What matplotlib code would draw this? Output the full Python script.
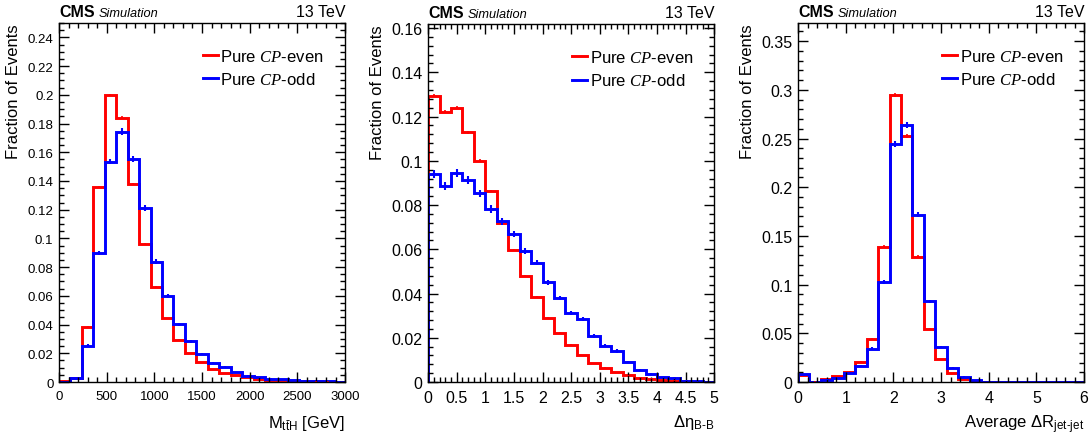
import numpy as np
import matplotlib.pyplot as plt
from matplotlib.ticker import MultipleLocator

plt.rcParams['font.family'] = ['Liberation Sans', 'DejaVu Sans']
plt.rcParams['mathtext.fontset'] = 'custom'
plt.rcParams['mathtext.rm'] = 'Liberation Sans'
plt.rcParams['mathtext.sf'] = 'Liberation Sans'
plt.rcParams['mathtext.it'] = 'Liberation Serif:italic'

# --- data (fraction of events per bin) ---
mtth_edges = np.linspace(0, 3000, 26)
mtth_even = [0.0005, 0.003, 0.0383, 0.136, 0.200, 0.184, 0.138, 0.0964, 0.066, 0.0444,
             0.0295, 0.020, 0.0137, 0.009, 0.0063, 0.0046, 0.0033, 0.0023, 0.0016, 0.0012,
             0.0008, 0.0005, 0.0004, 0.0003, 0.0002]
mtth_odd = [0.0003, 0.003, 0.0253, 0.0897, 0.1535, 0.1744, 0.1554, 0.1212, 0.0838, 0.0599,
            0.0402, 0.0283, 0.0195, 0.013, 0.0107, 0.0067, 0.0044, 0.0033, 0.0023, 0.0019,
            0.0013, 0.001, 0.0007, 0.0005, 0.0003]
mtth_even_err = [0, 0.0002, 0.0004, 0.0008, 0.0009, 0.0009, 0.0008, 0.0007, 0.0006, 0.0005,
                 0.0004, 0.0003, 0.0003, 0.0002, 0.0002, 0.0001, 0.0001, 0.0001, 0.0001, 0.0001,
                 0.0001, 0.0001, 0.0001, 0.0001, 0.0001]
mtth_odd_err = [0, 0.0005, 0.001, 0.0015, 0.002, 0.0023, 0.0022, 0.002, 0.0016, 0.0013,
                0.001, 0.0009, 0.0007, 0.0006, 0.0005, 0.0004, 0.0003, 0.0003, 0.0002, 0.0002,
                0.0002, 0.0001, 0.0001, 0.0001, 0.0001]

deta_edges = np.linspace(0, 5, 26)
deta_even = [0.1295, 0.1221, 0.1239, 0.1128, 0.100, 0.0863, 0.072, 0.0597, 0.048, 0.0386,
             0.0289, 0.0223, 0.0168, 0.012, 0.0086, 0.0065, 0.0044, 0.003, 0.002, 0.0015,
             0.0009, 0.0006, 0.0003, 0.0001, 0.0]
deta_odd = [0.094, 0.0887, 0.0947, 0.0913, 0.0853, 0.0782, 0.0726, 0.0669, 0.0591, 0.054,
            0.045, 0.038, 0.0311, 0.0286, 0.0208, 0.0165, 0.014, 0.009, 0.0056, 0.0038,
            0.0021, 0.0018, 0.0006, 0.0003, 0.0001]
deta_even_err = [0.0007, 0.0007, 0.0007, 0.0007, 0.0006, 0.0006, 0.0005, 0.0005, 0.0004, 0.0004,
                 0.0003, 0.0003, 0.0003, 0.0002, 0.0002, 0.0002, 0.0001, 0.0001, 0.0001, 0.0001,
                 0.0001, 0.0001, 0.0, 0.0, 0.0]
deta_odd_err = [0.0018, 0.0018, 0.0018, 0.0018, 0.0017, 0.0016, 0.0016, 0.0015, 0.0014, 0.0013,
                0.0012, 0.0011, 0.001, 0.001, 0.0008, 0.0008, 0.0007, 0.0006, 0.0005, 0.0004,
                0.0003, 0.0003, 0.0002, 0.0001, 0.0001]

dr_edges = np.linspace(0, 6, 26)
dr_even = [0.0075, 0.0005, 0.0027, 0.0058, 0.0106, 0.021, 0.0445, 0.1387, 0.2949, 0.2527,
           0.1288, 0.0548, 0.0233, 0.0089, 0.0034, 0.001, 0.0003, 0.0, 0.0, 0.0,
           0.0, 0.0, 0.0, 0.0, 0.0]
dr_odd = [0.0079, 0.0003, 0.0024, 0.0045, 0.0089, 0.0168, 0.0342, 0.1027, 0.2445, 0.2637,
          0.1719, 0.0829, 0.0356, 0.0144, 0.0055, 0.0017, 0.0004, 0.0, 0.0, 0.0,
          0.0, 0.0, 0.0, 0.0, 0.0]
dr_even_err = [0.0005, 0.0001, 0.0003, 0.0004, 0.0005, 0.0007, 0.001, 0.0015, 0.0018, 0.0017,
               0.0012, 0.0008, 0.0005, 0.0003, 0.0002, 0.0001, 0.0, 0.0, 0.0, 0.0,
               0.0, 0.0, 0.0, 0.0, 0.0]
dr_odd_err = [0.0008, 0.0002, 0.0004, 0.0005, 0.0008, 0.0011, 0.0016, 0.0025, 0.003, 0.003,
              0.0025, 0.0016, 0.0011, 0.0007, 0.0004, 0.0002, 0.0001, 0.0, 0.0, 0.0,
              0.0, 0.0, 0.0, 0.0, 0.0]

even_label = r'Pure $\mathit{CP}$-even'
odd_label = r'Pure $\mathit{CP}$-odd'

panels = [
    dict(edges=mtth_edges, even=mtth_even, odd=mtth_odd, even_err=mtth_even_err, odd_err=mtth_odd_err,
         xlabel=r'M$_{\mathrm{t\bar{t}H}}$ [GeV]', xmajor=500, xminor=100, ymajor=0.02, yminor=0.005,
         ymax=0.25, left=0.054, top=0.9448, ylab_x=-0.133, tsize=9.5),
    dict(edges=deta_edges, even=deta_even, odd=deta_odd, even_err=deta_even_err, odd_err=deta_odd_err,
         xlabel=r'Δη$_{\mathrm{B\text{-}B}}$', xmajor=0.5, xminor=0.1, ymajor=0.02, yminor=0.004,
         ymax=0.1617, left=0.392, top=0.9418, ylab_x=-0.150, tsize=11.5),
    dict(edges=dr_edges, even=dr_even, odd=dr_odd, even_err=dr_even_err, odd_err=dr_odd_err,
         xlabel=r'Average ΔR$_{\mathrm{jet\text{-}jet}}$', xmajor=1, xminor=0.2, ymajor=0.05, yminor=0.01,
         ymax=0.3686, left=0.7308, top=0.9448, ylab_x=-0.151, tsize=11.5),
]

fig = plt.figure(figsize=(10.92, 4.35), dpi=100)
bottom = 0.1195

for p in panels:
    ax = fig.add_axes([p['left'], bottom, 0.262, p['top'] - bottom])
    edges = p['edges']
    centers = 0.5 * (edges[:-1] + edges[1:])

    ax.stairs(p['even'], edges, color='#ff0000', lw=2.1, baseline=0, label=even_label)
    ax.errorbar(centers, p['even'], yerr=p['even_err'], fmt='none', ecolor='#ff0000', elinewidth=1.2)
    ax.stairs(p['odd'], edges, color='#0000ff', lw=2.1, baseline=0, label=odd_label)
    ax.errorbar(centers, p['odd'], yerr=p['odd_err'], fmt='none', ecolor='#0000ff', elinewidth=1.5)

    ax.set_xlim(edges[0], edges[-1])
    ax.set_ylim(0, p['ymax'])
    ax.xaxis.set_major_locator(MultipleLocator(p['xmajor']))
    ax.xaxis.set_minor_locator(MultipleLocator(p['xminor']))
    ax.yaxis.set_major_locator(MultipleLocator(p['ymajor']))
    ax.yaxis.set_minor_locator(MultipleLocator(p['yminor']))
    ax.xaxis.set_major_formatter(lambda v, pos: f'{v:g}')
    ax.yaxis.set_major_formatter(lambda v, pos: f'{v:g}')
    ax.tick_params(which='both', direction='in', top=True, right=True, width=1, labelsize=p['tsize'])
    ax.tick_params(which='major', length=7)
    ax.tick_params(which='minor', length=3.5)
    ax.tick_params(axis='x', pad=6)
    ax.tick_params(axis='y', pad=4)
    for s in ax.spines.values():
        s.set_linewidth(1)

    ax.set_ylabel('Fraction of Events', fontsize=12, ha='right')
    ax.yaxis.set_label_coords(p['ylab_x'], 1.0)
    ax.set_xlabel(p['xlabel'], fontsize=12, ha='right', va='top')
    ax.xaxis.set_label_coords(1.0, -0.085)

    cms = ax.text(0, 1.012, 'CMS', transform=ax.transAxes, fontsize=11.5, fontweight='bold',
                  ha='left', va='bottom')
    ax.annotate('Simulation', xy=(1, 0), xycoords=cms, xytext=(3, 0), textcoords='offset points',
                fontsize=9.2, fontstyle='italic', ha='left', va='bottom')
    ax.text(1, 1.012, '13 TeV', transform=ax.transAxes, fontsize=11.5, ha='right', va='bottom')

    ax.legend(loc='upper left', bbox_to_anchor=(0.48, 0.95), frameon=False, fontsize=12,
              handlelength=0.9, handletextpad=0.15, labelspacing=0.45, borderaxespad=0)

fig.savefig('out.png', dpi=100)
